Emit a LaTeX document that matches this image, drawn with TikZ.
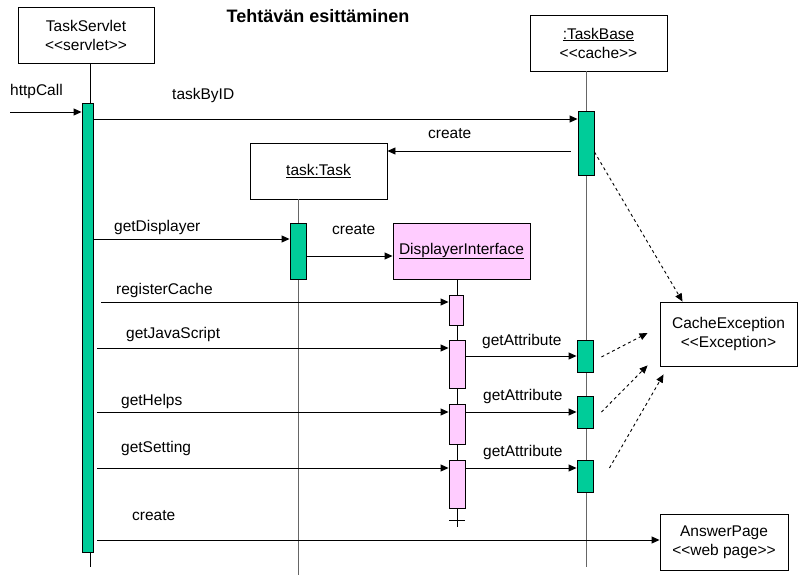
\documentclass[tikz,border=0pt]{standalone}
\usepackage{fontspec}
\newfontfamily\lsans{Liberation Sans}
\usetikzlibrary{arrows.meta,calc}
\definecolor{barg}{HTML}{00CC99}
\definecolor{pinkc}{HTML}{FFCCFF}
\begin{document}
\begin{tikzpicture}[x=1pt,y=-1pt,
  every node/.style={font=\lsans\fontsize{15.5}{19}\selectfont},
  obj/.style={draw,line width=0.9pt,inner sep=0pt,align=center,fill=white},
  bar/.style={draw,fill=barg,line width=0.9pt,inner sep=0pt,minimum width=16pt},
  pbar/.style={draw,fill=pinkc,line width=0.9pt,inner sep=0pt,minimum width=16pt},
  msg/.style={line width=0.9pt,-{Triangle[length=8pt,width=7pt]}},
  dmsg/.style={line width=0.9pt,dash pattern=on 3pt off 3pt,-{Triangle[length=8pt,width=7pt]}},
  lbl/.style={anchor=base west,inner sep=0pt},
  life/.style={line width=1pt,black!60},
  lifeb/.style={line width=1pt,black}]
\useasboundingbox (0,0) rectangle (798,577);

% title
\node[anchor=base,inner sep=0pt,font=\lsans\bfseries\fontsize{18}{22}\selectfont] (title) at (318,23) {Tehtävän esittäminen};

% objects
\node[obj,minimum width=136pt,minimum height=56pt] (ts) at (86,35) {TaskServlet\\<<servlet>>};
\node[obj,minimum width=137pt,minimum height=56pt] (tb) at (598.5,43) {\underline{:TaskBase}\\<<cache>>};
\node[obj,minimum width=137pt,minimum height=56pt] (task) at (318.5,171) {\underline{task:Task}};
\node[obj,fill=pinkc,minimum width=137pt,minimum height=56pt] (di) at (461.5,251) {\underline{DisplayerInterface}};
\node[obj,minimum width=137pt,minimum height=64pt] (ce) at (728.5,334) {CacheException\\<<Exception>};
\node[obj,minimum width=128pt,minimum height=56pt] (ap) at (724,542) {AnswerPage\\<<web page>>};

% lifeline ends
\coordinate (tsend) at (90,567);
\coordinate (tbend) at (586,567);
\coordinate (taskend) at (298,575);
\coordinate (diend) at (457,527);
\coordinate (dicross) at (457,520);

\draw[lifeb] (ts.south -| tsend) -- (tsend);
\draw[life] (tb.south -| tbend) -- (tbend);
\draw[life] (task.south -| taskend) -- (taskend);
\draw[lifeb] (di.south -| diend) -- (diend);
\draw[lifeb] ([xshift=-8pt]dicross) -- ([xshift=8pt]dicross);

% activation bars
\node[bar,minimum width=11pt,minimum height=449pt] (tsbar) at (87.5,327.5) {};
\node[bar,minimum height=64pt] (tbbar1) at (586,143) {};
\node[bar,minimum height=56pt] (taskbar) at (298,251) {};
\node[pbar,minimum width=14pt,minimum height=30pt] (dibar1) at (456,310) {};
\node[pbar,minimum height=48pt] (dibar2) at (457,364) {};
\node[pbar,minimum height=40pt] (dibar3) at (457,424) {};
\node[pbar,minimum height=48pt] (dibar4) at (457,484) {};
\node[bar,minimum height=32pt] (tbbar2) at (585,356) {};
\node[bar,minimum height=32pt] (tbbar3) at (585,412) {};
\node[bar,minimum height=32pt] (tbbar4) at (585,476) {};

% messages
\coordinate (hc) at (10,112);
\draw[msg] (hc) -- (hc -| tsbar.west);
\node[lbl] (lhc) at (10,96) {httpCall};

\draw[msg] (tsbar.east |- 0,119) -- (tbbar1.west |- 0,119);
\node[lbl] (ltbid) at (172,100) {taskByID};

\draw[msg,shorten <=7pt] (tbbar1.west |- 0,151) -- (task.east |- 0,151);
\node[lbl] (lcr1) at (428,139) {create};

\draw[msg] (tsbar.east |- 0,239) -- (taskbar.west |- 0,239);
\node[lbl] (lgd) at (114,231.5) {getDisplayer};

\draw[msg] (taskbar.east |- 0,256) -- (di.west |- 0,256);
\node[lbl] (lcr2) at (332,235) {create};

\draw[msg,shorten <=8pt] (tsbar.east |- 0,302) -- (dibar1.west |- 0,302);
\node[lbl] (lrc) at (116,295) {registerCache};

\draw[msg,shorten <=4pt] (tsbar.east |- 0,348) -- (dibar2.west |- 0,348);
\node[lbl] (lgjs) at (126,339) {getJavaScript};

\draw[msg,shorten <=4pt] (tsbar.east |- 0,412) -- (dibar3.west |- 0,412);
\node[lbl] (lgh) at (121,405) {getHelps};

\draw[msg,shorten <=4pt] (tsbar.east |- 0,468) -- (dibar4.west |- 0,468);
\node[lbl] (lgs) at (121,452) {getSetting};

\draw[msg,shorten <=4pt] (tsbar.east |- 0,540) -- (ap.west |- 0,540);
\node[lbl] (lcr3) at (132,520) {create};

\draw[msg] (dibar2.east |- 0,356) -- (tbbar2.west |- 0,356);
\node[lbl] (lga1) at (482,345) {getAttribute};
\draw[msg] (dibar3.east |- 0,412) -- (tbbar3.west |- 0,412);
\node[lbl] (lga2) at (483,400) {getAttribute};
\draw[msg] (dibar4.east |- 0,468) -- (tbbar4.west |- 0,468);
\node[lbl] (lga3) at (483,456) {getAttribute};

% exceptions
\draw[dmsg] (tbbar1.east |- 0,152) -- ($(ce.north west)+(23,0)$);
\draw[dmsg] ($(tbbar2.east)+(8,1)$) -- ($(ce.west)+(-12,-1)$);
\draw[dmsg] ($(tbbar3.east)+(8,0)$) -- ($(ce.south west)+(-12,-1)$);
\draw[dmsg] ($(tbbar4.east)+(16,-8)$) -- ($(ce.south west)+(4,8)$);
\end{tikzpicture}
\end{document}
